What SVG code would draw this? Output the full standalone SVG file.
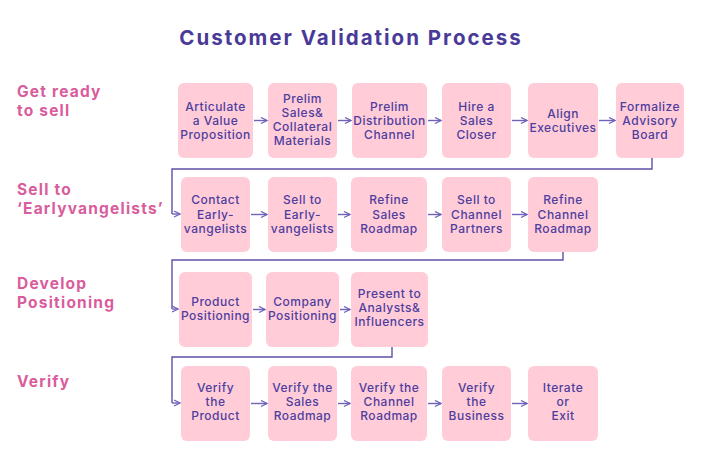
<svg xmlns="http://www.w3.org/2000/svg" width="701" height="467" viewBox="0 0 701 467">
<style>
.box{fill:#FFCCD8}
.t{font-family:Inter,"Open Sans",sans-serif;font-size:12px;font-weight:500;fill:#4E3E9E;text-anchor:middle;letter-spacing:0.5px}
.lbl{font-family:Inter,"Open Sans",sans-serif;font-size:15.5px;font-weight:700;fill:#D95C9C;letter-spacing:1.2px}
.title{font-family:Inter,"Open Sans",sans-serif;font-size:20.5px;font-weight:700;fill:#4A3A98;text-anchor:middle;letter-spacing:2px}
.c{fill:none;stroke:#5E50AA;stroke-width:1.4}
.a{fill:none;stroke:#6F62B8;stroke-width:1.4;marker-end:url(#ah)}
</style>
<defs>
<marker id="ah" viewBox="0 0 8 8" refX="7" refY="4" markerWidth="8" markerHeight="8" markerUnits="userSpaceOnUse" orient="auto">
<path d="M1,1 L7,4 L1,7" fill="none" stroke="#6F62B8" stroke-width="1.3"/>
</marker>
</defs>
<rect width="701" height="467" fill="#FFFFFF"/>
<text class="title" x="351" y="45">Customer Validation Process</text>
<g id="labels">
<text class="lbl" x="17" y="97">Get ready</text>
<text class="lbl" x="17" y="116">to sell</text>
<text class="lbl" x="17" y="195">Sell to</text>
<text class="lbl" x="17" y="214">‘Earlyvangelists’</text>
<text class="lbl" x="17" y="289">Develop</text>
<text class="lbl" x="17" y="308">Positioning</text>
<text class="lbl" x="17" y="387">Verify</text>
</g>
<g id="connectors">
<path class="a" d="M254,120.5 H267"/>
<path class="a" d="M338,120.5 H351"/>
<path class="a" d="M428,120.5 H441"/>
<path class="a" d="M512,120.5 H527"/>
<path class="a" d="M599,120.5 H615"/>
<path class="c" d="M652,158 V169 H172 V214"/>
<path class="a" d="M172,214 H180"/>
<path class="a" d="M251,214.5 H267"/>
<path class="a" d="M338,214.5 H350"/>
<path class="a" d="M428,214.5 H441"/>
<path class="a" d="M512,214.5 H527"/>
<path class="c" d="M563,252 V260 H172 V309"/>
<path class="a" d="M172,309 H178"/>
<path class="a" d="M253,309.5 H265"/>
<path class="a" d="M340,309.5 H350"/>
<path class="c" d="M392,347 V357 H172 V403"/>
<path class="a" d="M172,403 H180"/>
<path class="a" d="M251,403.5 H267"/>
<path class="a" d="M338,403.5 H350"/>
<path class="a" d="M428,403.5 H441"/>
<path class="a" d="M512,403.5 H527"/>
</g>
<g id="n1"><rect class="box" x="178" y="83" width="75" height="75" rx="6"/><text class="t" x="215.5" y="110.5"><tspan x="215.5">Articulate</tspan><tspan x="215.5" dy="14">a Value</tspan><tspan x="215.5" dy="14">Proposition</tspan></text></g>
<g id="n2"><rect class="box" x="268" y="83" width="69" height="75" rx="6"/><text class="t" x="302.5" y="103"><tspan x="302.5">Prelim</tspan><tspan x="302.5" dy="14">Sales&amp;</tspan><tspan x="302.5" dy="14">Collateral</tspan><tspan x="302.5" dy="14">Materials</tspan></text></g>
<g id="n3"><rect class="box" x="352" y="83" width="75" height="75" rx="6"/><text class="t" x="389.5" y="110.5"><tspan x="389.5">Prelim</tspan><tspan x="389.5" dy="14">Distribution</tspan><tspan x="389.5" dy="14">Channel</tspan></text></g>
<g id="n4"><rect class="box" x="442" y="83" width="69" height="75" rx="6"/><text class="t" x="476.5" y="110.5"><tspan x="476.5">Hire a</tspan><tspan x="476.5" dy="14">Sales</tspan><tspan x="476.5" dy="14">Closer</tspan></text></g>
<g id="n5"><rect class="box" x="528" y="83" width="70" height="75" rx="6"/><text class="t" x="563" y="117.5"><tspan x="563">Align</tspan><tspan x="563" dy="14">Executives</tspan></text></g>
<g id="n6"><rect class="box" x="616" y="83" width="68" height="75" rx="6"/><text class="t" x="650" y="110.5"><tspan x="650">Formalize</tspan><tspan x="650" dy="14">Advisory</tspan><tspan x="650" dy="14">Board</tspan></text></g>
<g id="n7"><rect class="box" x="181" y="177" width="69" height="75" rx="6"/><text class="t" x="215.5" y="204"><tspan x="215.5">Contact</tspan><tspan x="215.5" dy="14.5">Early-</tspan><tspan x="215.5" dy="14.5">vangelists</tspan></text></g>
<g id="n8"><rect class="box" x="268" y="177" width="69" height="75" rx="6"/><text class="t" x="302.5" y="204"><tspan x="302.5">Sell to</tspan><tspan x="302.5" dy="14.5">Early-</tspan><tspan x="302.5" dy="14.5">vangelists</tspan></text></g>
<g id="n9"><rect class="box" x="351" y="177" width="76" height="75" rx="6"/><text class="t" x="389" y="204"><tspan x="389">Refine</tspan><tspan x="389" dy="14.5">Sales</tspan><tspan x="389" dy="14.5">Roadmap</tspan></text></g>
<g id="n10"><rect class="box" x="442" y="177" width="69" height="75" rx="6"/><text class="t" x="476.5" y="204"><tspan x="476.5">Sell to</tspan><tspan x="476.5" dy="14.5">Channel</tspan><tspan x="476.5" dy="14.5">Partners</tspan></text></g>
<g id="n11"><rect class="box" x="528" y="177" width="70" height="75" rx="6"/><text class="t" x="563" y="204"><tspan x="563">Refine</tspan><tspan x="563" dy="14.5">Channel</tspan><tspan x="563" dy="14.5">Roadmap</tspan></text></g>
<g id="n12"><rect class="box" x="179" y="272" width="73" height="75" rx="6"/><text class="t" x="215.5" y="306"><tspan x="215.5">Product</tspan><tspan x="215.5" dy="14">Positioning</tspan></text></g>
<g id="n13"><rect class="box" x="266" y="272" width="73" height="75" rx="6"/><text class="t" x="302.5" y="306"><tspan x="302.5">Company</tspan><tspan x="302.5" dy="14">Positioning</tspan></text></g>
<g id="n14"><rect class="box" x="351" y="272" width="77" height="75" rx="6"/><text class="t" x="389.5" y="298"><tspan x="389.5">Present to</tspan><tspan x="389.5" dy="14">Analysts&amp;</tspan><tspan x="389.5" dy="14">Influencers</tspan></text></g>
<g id="n15"><rect class="box" x="181" y="366" width="69" height="75" rx="6"/><text class="t" x="215.5" y="392"><tspan x="215.5">Verify</tspan><tspan x="215.5" dy="14">the</tspan><tspan x="215.5" dy="14">Product</tspan></text></g>
<g id="n16"><rect class="box" x="268" y="366" width="69" height="75" rx="6"/><text class="t" x="302.5" y="392"><tspan x="302.5">Verify the</tspan><tspan x="302.5" dy="14">Sales</tspan><tspan x="302.5" dy="14">Roadmap</tspan></text></g>
<g id="n17"><rect class="box" x="351" y="366" width="76" height="75" rx="6"/><text class="t" x="389" y="392"><tspan x="389">Verify the</tspan><tspan x="389" dy="14">Channel</tspan><tspan x="389" dy="14">Roadmap</tspan></text></g>
<g id="n18"><rect class="box" x="442" y="366" width="69" height="75" rx="6"/><text class="t" x="476.5" y="392"><tspan x="476.5">Verify</tspan><tspan x="476.5" dy="14">the</tspan><tspan x="476.5" dy="14">Business</tspan></text></g>
<g id="n19"><rect class="box" x="528" y="366" width="70" height="75" rx="6"/><text class="t" x="563" y="392"><tspan x="563">Iterate</tspan><tspan x="563" dy="14">or</tspan><tspan x="563" dy="14">Exit</tspan></text></g>
</svg>
